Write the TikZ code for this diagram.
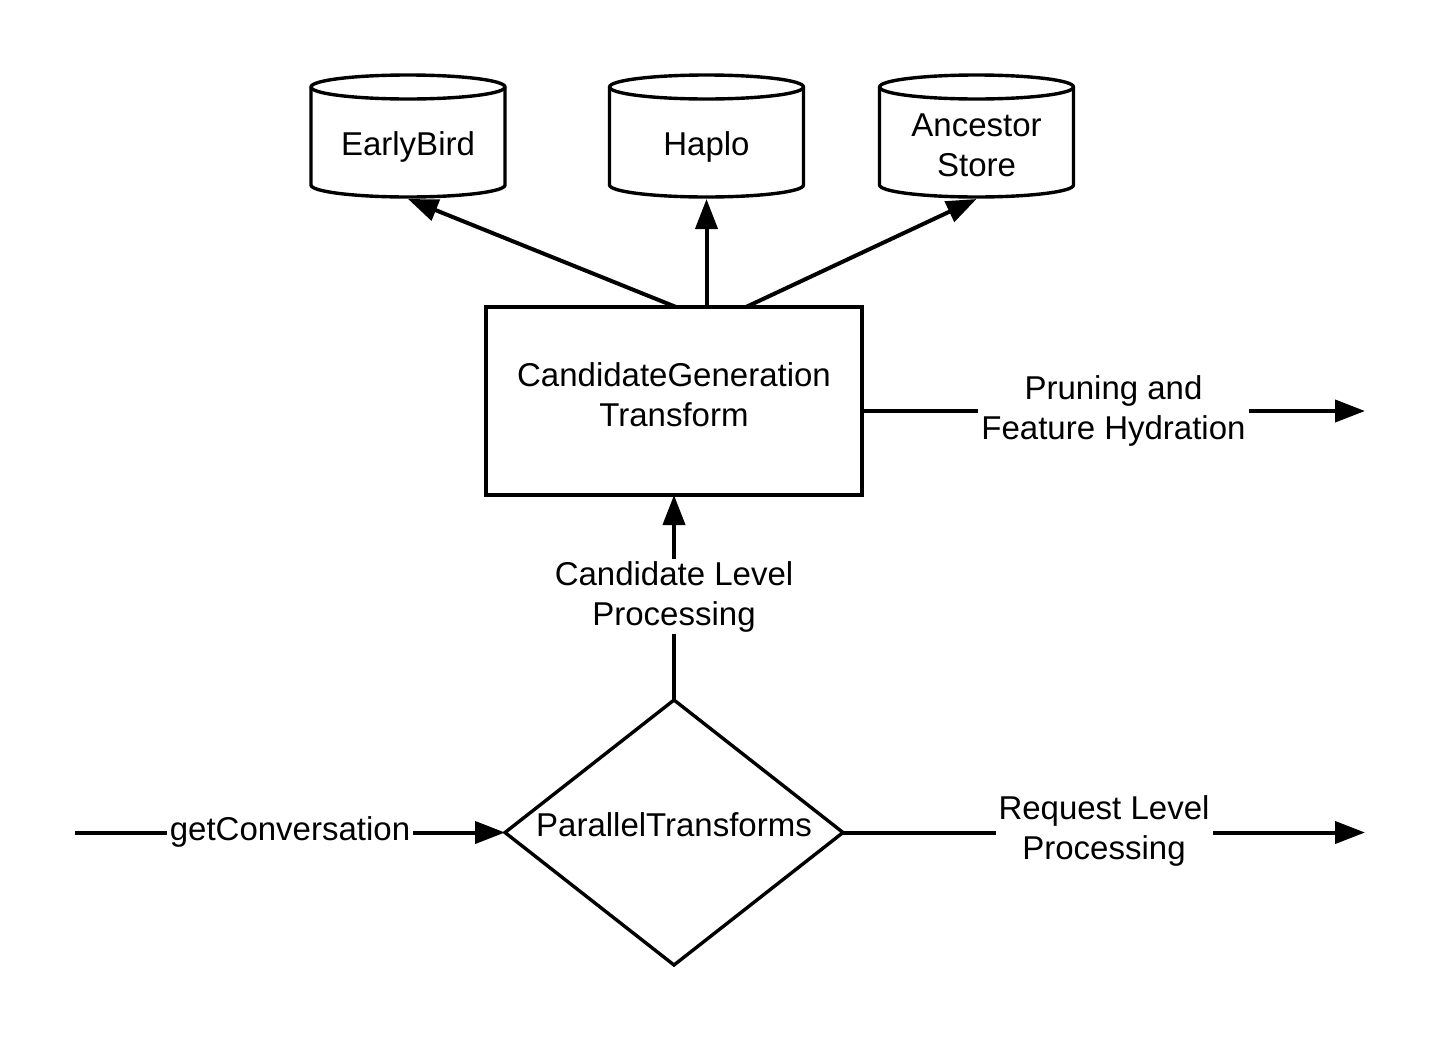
\documentclass[tikz,border=0pt]{standalone}
\usepackage{fontspec}
\setmainfont{Liberation Sans}
\usetikzlibrary{arrows.meta,shapes.geometric}
\begin{document}
\begin{tikzpicture}[x=0.5pt,y=-0.5pt,
  txt/.style={font=\fontsize{16.5}{20}\selectfont, align=center, inner sep=0pt},
  lbl/.style={txt, fill=white, inner xsep=1.5pt, inner ysep=1pt},
  shapeline/.style={line width=1.7pt, line join=round},
  conn/.style={line width=2pt, -{Triangle[length=15pt,width=11pt]}},
  boxnode/.style={draw, line width=2pt, minimum width=188pt, minimum height=94pt, inner sep=0pt, outer sep=0pt, txt},
  dia/.style={draw, diamond, line width=1.7pt, minimum width=169pt, minimum height=132.5pt, inner sep=0pt, outer sep=0pt}
]
\useasboundingbox (0,0) rectangle (1444,1039);
\newcommand\dbcyl[4]{%
  \draw[shapeline, fill=white] (#1-97,87) -- (#1-97,185)
     arc[start angle=180, end angle=360, x radius=48.5pt, y radius=6pt]
     -- (#1+97,87)
     arc[start angle=0, end angle=180, x radius=48.5pt, y radius=6pt] -- cycle;
  \draw[shapeline] (#1-97,87)
     arc[start angle=180, end angle=360, x radius=48.5pt, y radius=6pt];
  \node[txt] (#2) at (#1,#4) {#3};
  \coordinate (#2-b) at (#1,199);
}
\dbcyl{408}{eb}{EarlyBird}{147}
\dbcyl{706.5}{hp}{Haplo}{147}
\dbcyl{976.5}{as}{Ancestor\\Store}{145.5}

\node[boxnode] (cg) at (674,401) {CandidateGeneration\\Transform\\[-14pt]\mbox{}};
\node[dia] (pt) at (674,832.5) {};
\node[txt] (ptt) at (674,825) {ParallelTransforms};

\coordinate (cgL) at (676,307);
\coordinate (cgM) at (706.5,307);
\coordinate (cgR) at (746,307);
\draw[conn] (cgL) -- (eb-b);
\draw[conn] (cgM) -- (hp-b);
\draw[conn] (cgR) -- (as-b);

\coordinate (outA) at (1365,411);
\draw[conn] (cg.east |- outA) -- node[lbl, yshift=0pt] {Pruning and\\Feature Hydration} (outA);

\draw[conn] (pt.north) -- node[lbl, yshift=0.5pt] {Candidate Level\\Processing} (cg.south);

\coordinate (inA) at (75,832.5);
\draw[conn] (inA) -- node[lbl, yshift=0.5pt, inner ysep=0pt] {getConversation} (pt.west);

\coordinate (outB) at (1365,832.5);
\draw[conn] (pt.east) -- node[lbl, yshift=1pt] {Request Level\\Processing} (outB);
\end{tikzpicture}
\end{document}
